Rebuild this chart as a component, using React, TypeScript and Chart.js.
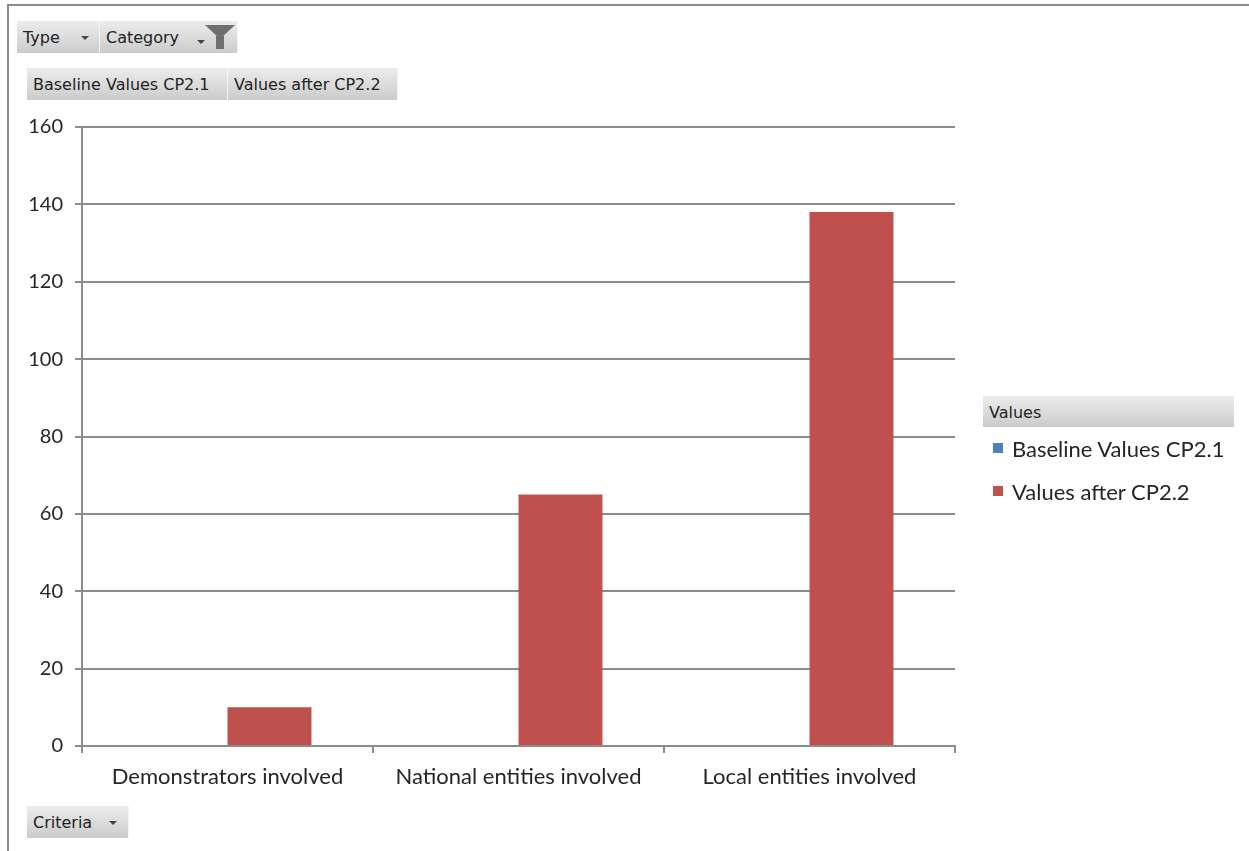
import React, { useEffect, useRef } from "react";
import { Chart, registerables } from "chart.js";

Chart.register(...registerables);

const categories = [
  "Demonstrators involved",
  "National entities involved",
  "Local entities involved",
];
const seriesNames = ["Baseline Values CP2.1", "Values after CP2.2"];
const baselineValues = [0, 0, 0];
const afterValues = [10, 65, 138];
const seriesColors = ["#4F81BD", "#C0504D"];
const yMin = 0;
const yMax = 160;
const yStep = 20;

const FONT = "Lato, 'Open Sans', sans-serif";
const BTN_FONT = "'DejaVu Sans', sans-serif";
const GRID = "#8c8c8c";

const btnBase: React.CSSProperties = {
  position: "absolute",
  boxSizing: "border-box",
  background: "linear-gradient(#ececec, #d9d9d9 60%, #cbcbcb)",
  borderRight: "1px solid #f4f4f4",
  fontFamily: BTN_FONT,
  fontSize: 16,
  color: "#222",
  display: "flex",
  alignItems: "center",
  paddingLeft: 6,
  paddingTop: 1,
  whiteSpace: "nowrap",
};

function Arrow({ left, top }: { left: number; top: number }) {
  return (
    <div
      style={{
        position: "absolute",
        left,
        top,
        width: 0,
        height: 0,
        borderLeft: "4px solid transparent",
        borderRight: "4px solid transparent",
        borderTop: "4px solid #444",
      }}
    />
  );
}

function FieldButton({
  label,
  left,
  top,
  width,
  height = 32,
  arrow,
  funnel,
}: {
  label: string;
  left: number;
  top: number;
  width: number;
  height?: number;
  arrow?: number;
  funnel?: boolean;
}) {
  return (
    <div style={{ ...btnBase, left, top, width, height }}>
      {label}
      {arrow !== undefined && <Arrow left={arrow} top={height / 2 - 1} />}
      {funnel && (
        <>
          <Arrow left={width - 41} top={height / 2 + 3} />
          <div
            style={{
              position: "absolute",
              left: width - 33,
              top: 4,
              width: 0,
              height: 0,
              borderLeft: "15px solid transparent",
              borderRight: "15px solid transparent",
              borderTop: "14px solid #6f6f6f",
            }}
          />
          <div
            style={{
              position: "absolute",
              left: width - 22,
              top: 15,
              width: 8,
              height: 13,
              background: "#6f6f6f",
            }}
          />
        </>
      )}
    </div>
  );
}

export default function App() {
  const canvasRef = useRef<HTMLCanvasElement | null>(null);

  useEffect(() => {
    const canvas = canvasRef.current;
    if (!canvas) return;
    const chart = new Chart(canvas, {
      type: "bar",
      data: {
        labels: categories,
        datasets: [
          {
            label: seriesNames[0],
            data: baselineValues,
            backgroundColor: seriesColors[0],
          },
          {
            label: seriesNames[1],
            data: afterValues,
            backgroundColor: seriesColors[1],
          },
        ],
      },
      options: {
        responsive: false,
        animation: false,
        maintainAspectRatio: false,
        layout: { padding: { left: 12, right: 294, top: 127, bottom: 45 } },
        datasets: {
          bar: { categoryPercentage: 0.577, barPercentage: 1 },
        },
        plugins: {
          legend: { display: false },
          tooltip: { enabled: false },
        },
        scales: {
          x: {
            afterFit: (scale: any) => {
              scale.height = 60;
            },
            grid: {
              display: true,
              offset: true,
              drawOnChartArea: false,
              drawTicks: true,
              tickLength: 7,
              color: GRID,
              lineWidth: 2,
            },
            border: { display: true, color: GRID, width: 2 },
            ticks: {
              color: "#262626",
              font: { family: FONT, size: 22 },
              padding: 11,
              maxRotation: 0,
              autoSkip: false,
            },
          },
          y: {
            min: yMin,
            max: yMax,
            afterFit: (scale: any) => {
              scale.width = 70;
            },
            grid: {
              color: GRID,
              lineWidth: 2,
              drawTicks: true,
              tickLength: 7,
            },
            border: { display: true, color: GRID, width: 2 },
            ticks: {
              stepSize: yStep,
              color: "#262626",
              font: { family: FONT, size: 20 },
              padding: 12,
            },
          },
        },
      },
    });
    return () => chart.destroy();
  }, []);

  return (
    <div
      style={{
        position: "fixed",
        left: 0,
        top: 0,
        width: 1249,
        height: 851,
        background: "#fff",
        overflow: "hidden",
      }}
    >
      {/* frame */}
      <div
        style={{
          position: "absolute",
          left: 7,
          top: 4,
          width: 1260,
          height: 900,
          borderTop: "2px solid #8a8a8a",
          borderLeft: "2px solid #8a8a8a",
        }}
      />
      <canvas
        ref={canvasRef}
        width={1249}
        height={851}
        style={{ position: "absolute", left: 0, top: 0, width: 1249, height: 851 }}
      />
      <FieldButton label="Type" left={17} top={21} width={83} arrow={64} />
      <FieldButton label="Category" left={100} top={21} width={138} funnel />
      <FieldButton label={seriesNames[0]} left={27} top={68} width={201} />
      <FieldButton label={seriesNames[1]} left={228} top={68} width={170} />
      <FieldButton label="Criteria" left={27} top={806} width={102} arrow={82} />

      {/* legend */}
      <div
        style={{
          ...btnBase,
          left: 983,
          top: 396,
          width: 251,
          height: 31,
          borderRight: "none",
        }}
      >
        Values
      </div>
      {seriesNames.map((name, i) => (
        <div
          key={name}
          style={{
            position: "absolute",
            left: 993,
            top: 434 + i * 43,
            height: 28,
            display: "flex",
            alignItems: "center",
            fontFamily: FONT,
            fontSize: 22,
            color: "#262626",
            whiteSpace: "nowrap",
          }}
        >
          <span
            style={{
              display: "inline-block",
              width: 10,
              height: 10,
              background: seriesColors[i],
              marginRight: 9,
            }}
          />
          {name}
        </div>
      ))}
    </div>
  );
}
